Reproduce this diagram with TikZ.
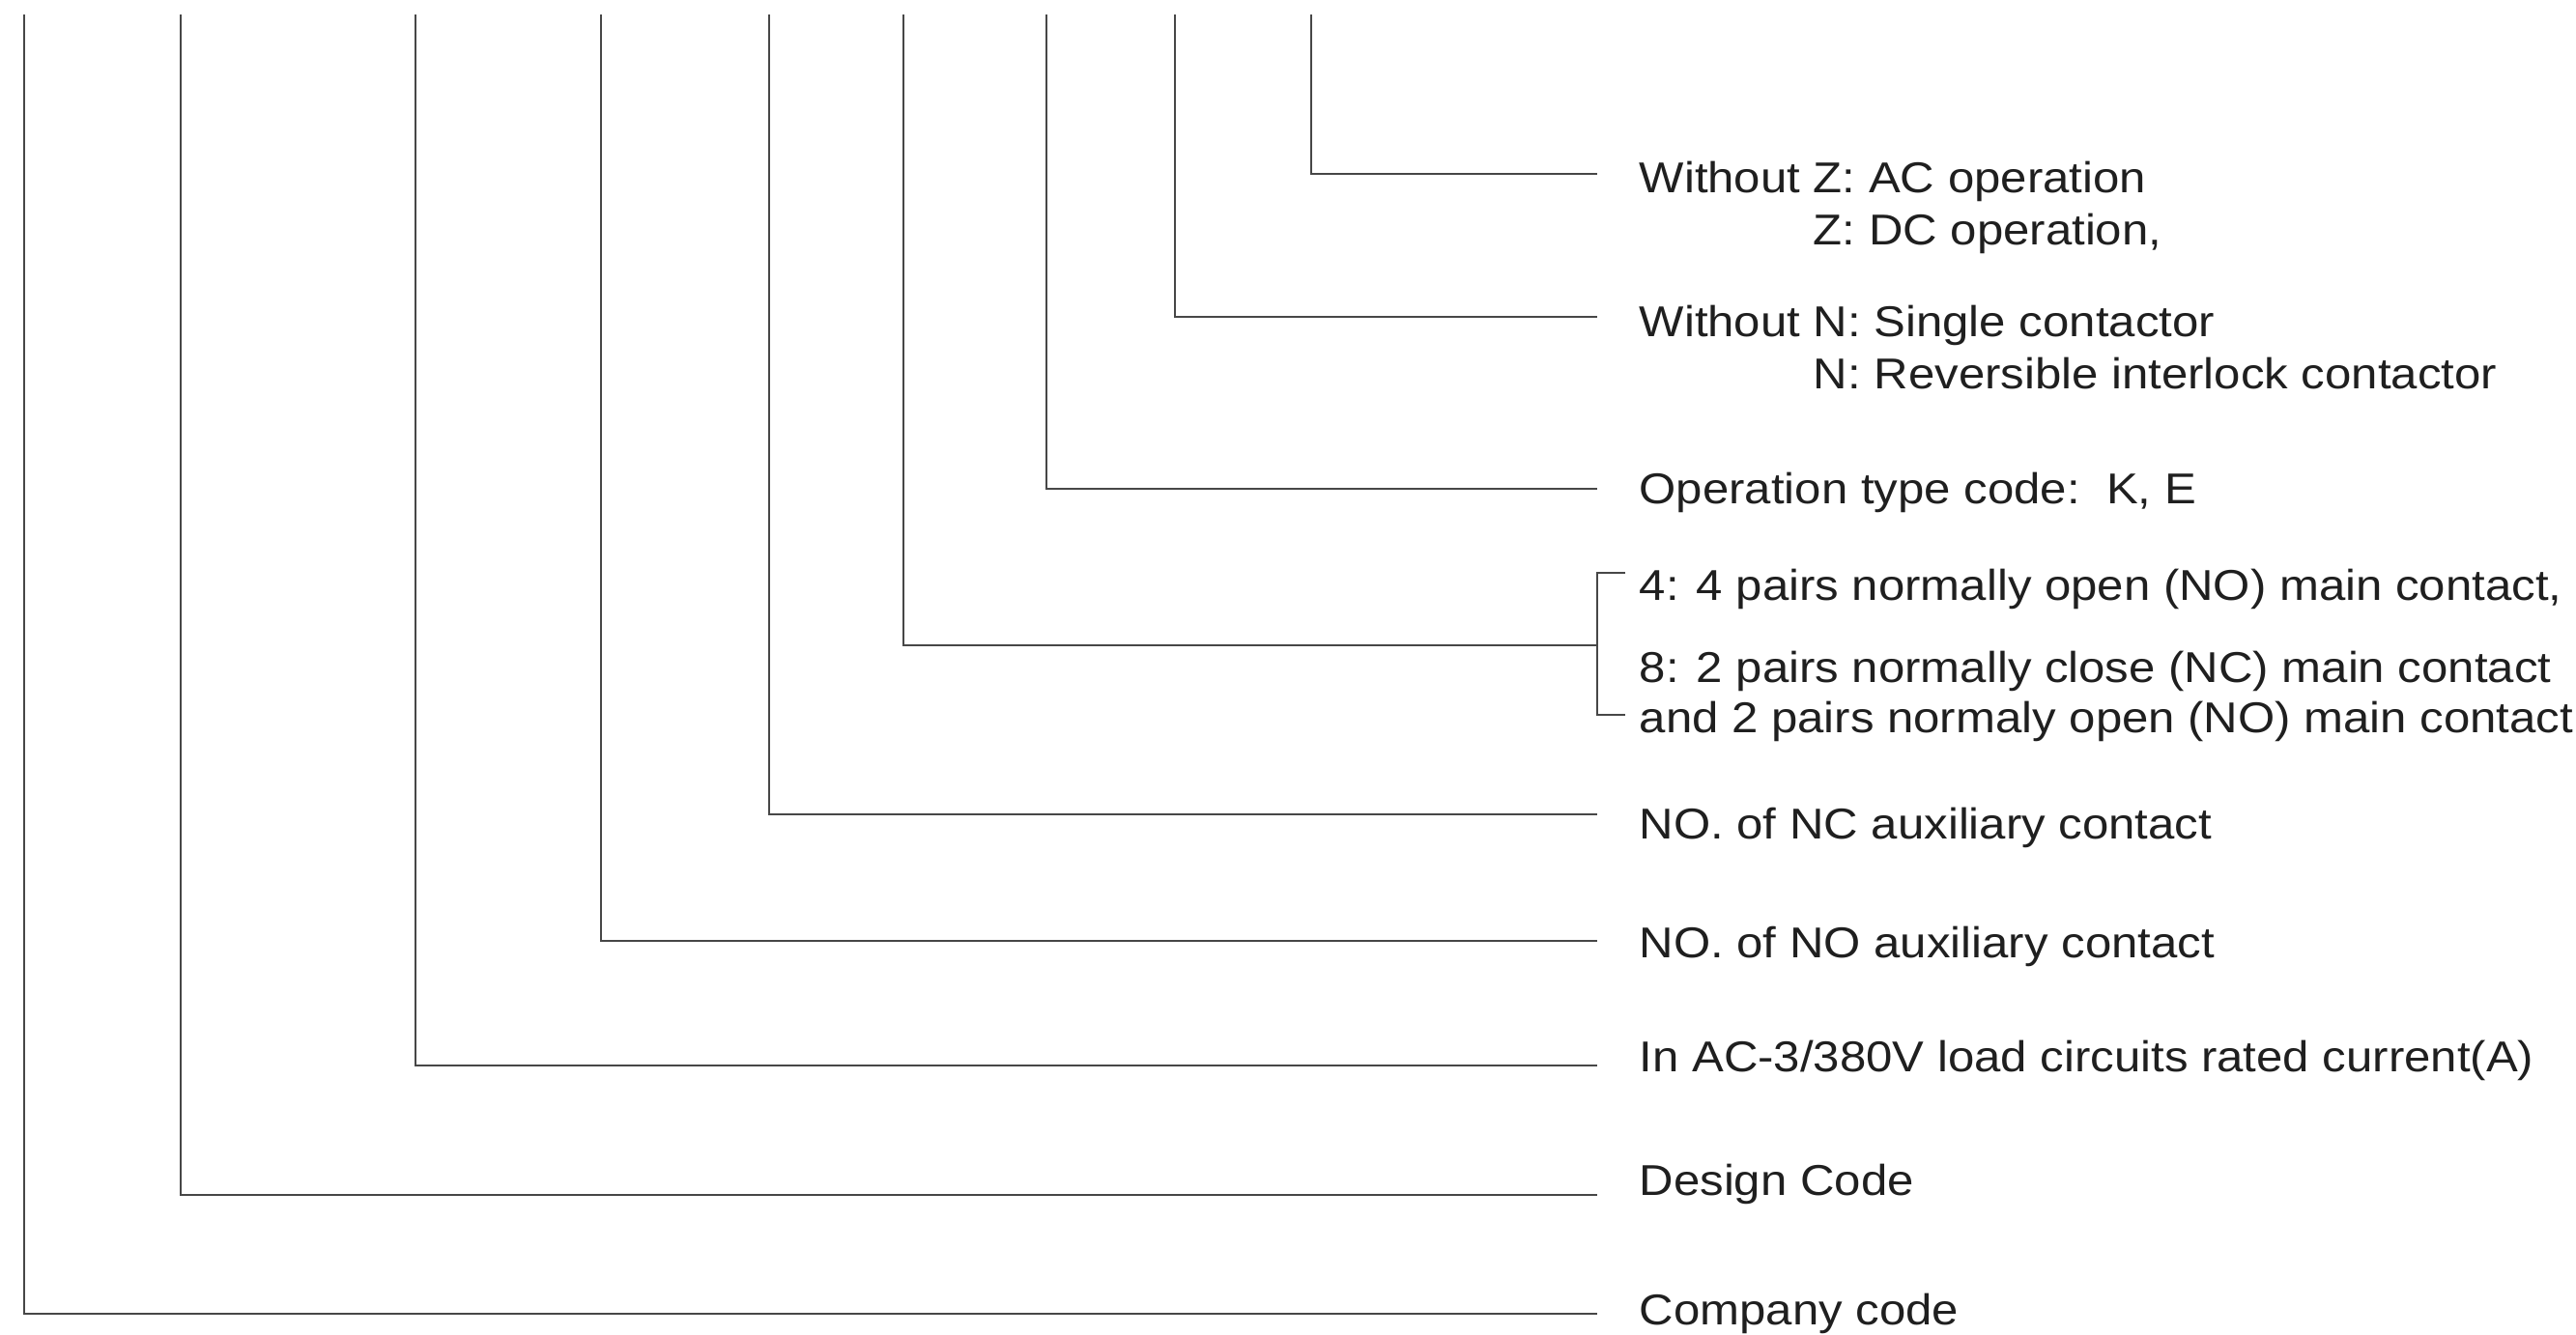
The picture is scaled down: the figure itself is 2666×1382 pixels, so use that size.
\documentclass[tikz,border=0pt]{standalone}
\usepackage{fontspec}
\setmainfont{Liberation Sans}[FakeStretch=1.10]

\begin{document}
\begin{tikzpicture}[x=0.01cm,y=-0.01cm,
  lead/.style={line width=0.75pt,draw=black!72},
  lbl/.style={anchor=base west,inner sep=0pt,text=black!88,font=\fontsize{12.7}{15}\selectfont}]
  \useasboundingbox (0,0) rectangle (2666,1382);
  % tops of the code columns
  \coordinate (company) at (25,15);
  \coordinate (design) at (187,15);
  \coordinate (current) at (430,15);
  \coordinate (noaux) at (622,15);
  \coordinate (ncaux) at (796,15);
  \coordinate (mainc) at (935,15);
  \coordinate (optype) at (1083,15);
  \coordinate (revers) at (1216,15);
  \coordinate (acdc) at (1357,15);
  % ends at the labels
  \coordinate (companyE) at (1653,1360);
  \coordinate (designE) at (1653,1237);
  \coordinate (currentE) at (1653,1103);
  \coordinate (noauxE) at (1653,974);
  \coordinate (ncauxE) at (1653,843);
  \coordinate (maincE) at (1653,668);
  \coordinate (optypeE) at (1653,506);
  \coordinate (reversE) at (1653,328);
  \coordinate (acdcE) at (1653,180);
  \coordinate (brT) at (1653,593);
  \coordinate (brB) at (1653,740);
  \coordinate (brTE) at (1682,593);
  \coordinate (brBE) at (1682,740);

  \draw[lead] (company) |- (companyE);
  \draw[lead] (design) |- (designE);
  \draw[lead] (current) |- (currentE);
  \draw[lead] (noaux) |- (noauxE);
  \draw[lead] (ncaux) |- (ncauxE);
  \draw[lead] (mainc) |- (maincE);
  \draw[lead] (optype) |- (optypeE);
  \draw[lead] (revers) |- (reversE);
  \draw[lead] (acdc) |- (acdcE);
  \draw[lead] (brTE) -- (brT) -- (brB) -- (brBE);

  \node[lbl] (acz) at (1696,200) {Without Z: AC operation};
  \node[lbl] (dcz) at (1696,254) {\phantom{Without }Z: DC operation,};
  \node[lbl] (singlen) at (1696,348) {Without N: Single contactor};
  \node[lbl] (revn) at (1696,402) {\phantom{Without }N: Reversible interlock contactor};
  \node[lbl] (optxt) at (1696,521) {Operation type code:\ \ K, E};
  \node[lbl] (four) at (1696,621) {4: 4 pairs normally open (NO) main contact,};
  \node[lbl] (eight) at (1696,706) {8: 2 pairs normally close (NC) main contact};
  \node[lbl] (eightb) at (1696,758) {and 2 pairs normaly open (NO) main contact};
  \node[lbl] (nctxt) at (1696,868) {NO. of NC auxiliary contact};
  \node[lbl] (notxt) at (1696,991) {NO. of NO auxiliary contact};
  \node[lbl] (curtxt) at (1696,1109) {In AC-3/380V load circuits rated current(A)};
  \node[lbl] (destxt) at (1696,1237) {Design Code};
  \node[lbl] (comptxt) at (1696,1371) {Company code};
\end{tikzpicture}
\end{document}
